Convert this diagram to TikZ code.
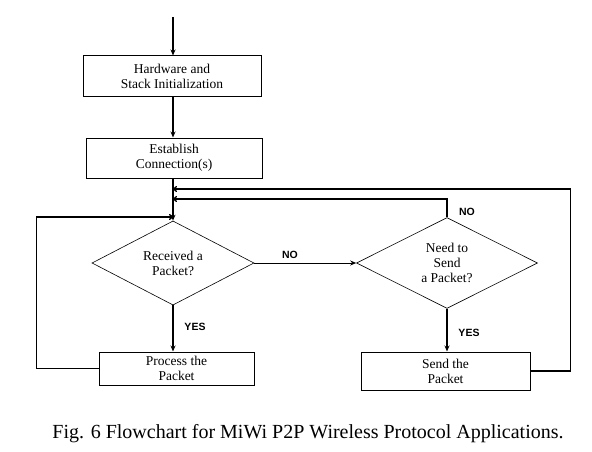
\documentclass[tikz,border=0pt]{standalone}
\usepackage{fontspec}
\setmainfont{Liberation Serif}
\newfontfamily\tagfont{Liberation Sans}
\usetikzlibrary{shapes.geometric,arrows.meta}

\tikzset{
  flow/.style={line width=1.6pt,-{Stealth[length=6pt,width=5pt]}},
  loopline/.style={line width=1.3pt,-{To[length=4pt,width=6pt]}},
  stepbox/.style={draw,line width=1pt,rectangle,align=center,inner sep=0pt,
    font=\fontsize{13.5}{15}\selectfont},
  decision/.style={draw,line width=0.6pt,diamond,align=center,inner sep=0pt,
    font=\fontsize{13.5}{15}\selectfont},
  answer/.style={font=\tagfont\bfseries\fontsize{10.5}{12}\selectfont}
}

\begin{document}
\begin{tikzpicture}[x=1pt,y=-1pt]
    \useasboundingbox (0,0) rectangle (592,452);
    % process boxes
    \node[stepbox,minimum width=178pt,minimum height=41pt] (init) at (172,76.5) {Hardware and\\Stack Initialization};
    \node[stepbox,minimum width=176pt,minimum height=40pt] (conn) at (174,158) {Establish\\Connection(s)};
    \node[stepbox,minimum width=155pt,minimum height=33pt] (proc) at (176.5,368.5) {Process the\\Packet};
    \node[stepbox,minimum width=169pt,minimum height=38pt] (send) at (445.5,371) {Send the\\Packet};
    % decisions
    \node[decision,minimum width=162pt,minimum height=79pt] (recv) at (173,263) {Received a\\Packet?};
    \node[decision,minimum width=181pt,minimum height=89pt] (need) at (447,263) {Need to\\Send\\a Packet?};
    % junction points on the main line
    \coordinate (start) at (173,17);
    \coordinate (backA) at (173,189);
    \coordinate (backB) at (173,199);
    \coordinate (backC) at (173,217);

    \draw[flow] (start) -- (start |- init.north);
    \draw[flow] (init.south -| start) -- (conn.north -| start);
    \draw[flow] (conn.south -| start) -- (recv.north);
    \draw[flow] (recv.south) -- (recv.south |- proc.north);
    \draw[flow] (need.south) -- (need.south |- send.north);
    \draw[line width=1pt,-{Stealth[length=6pt,width=5pt]}] (recv.east) -- (need.west);
    % loops back to the top
    \draw[loopline] (need.north) |- (backB);
    \draw[loopline] (send.east) -- ++(40,0) |- (backA);
    \draw[loopline] (proc.west) -- ++(-62,0) |- (backC);
    % labels
    \node[answer] at (290,255) {NO};
    \node[answer] at (467,212) {NO};
    \node[answer] at (195,327) {YES};
    \node[answer] at (469,333) {YES};
    \node[font=\fontsize{20}{22}\selectfont] (caption) at (308,434) {Fig. 6 Flowchart for MiWi P2P Wireless Protocol Applications.};
\end{tikzpicture}
\end{document}
